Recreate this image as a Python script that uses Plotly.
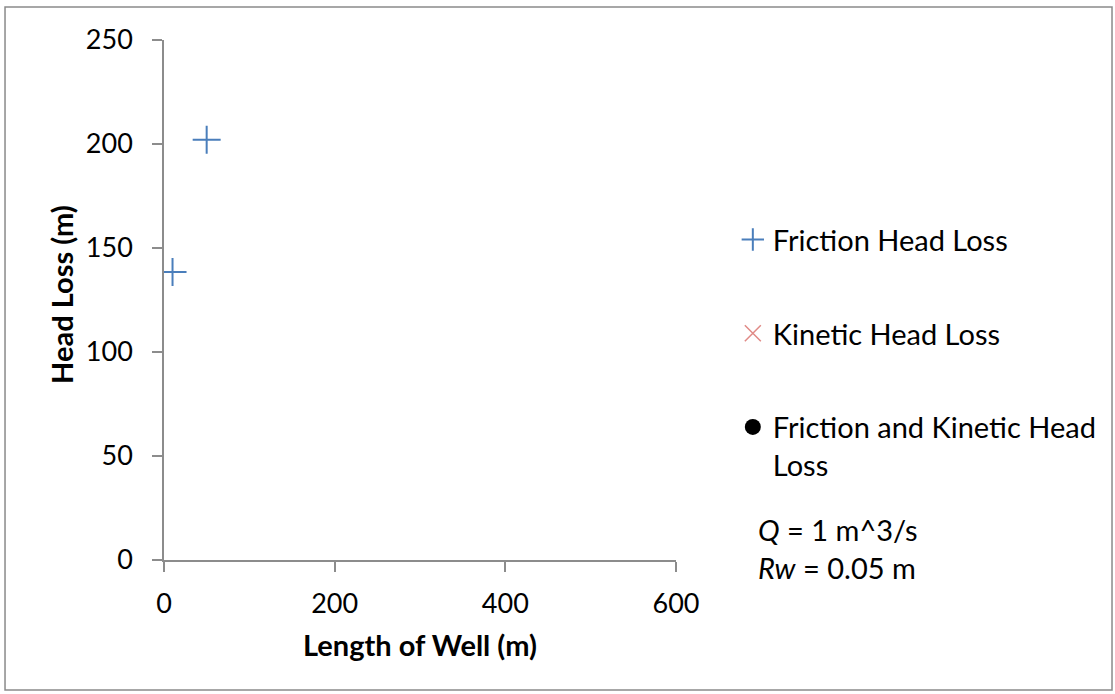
import plotly.graph_objects as go

# Series values
friction_len = [10, 50]
friction_loss = [138.5, 202]
kinetic_len = [None]
kinetic_loss = [None]
combined_len = [None]
combined_loss = [None]

x_ticks = [0, 200, 400, 600]
y_ticks = [0, 50, 100, 150, 200, 250]

FONT = "Lato, 'Open Sans', sans-serif"
AXIS_GRAY = "#8c8c8c"
FS = 29
TICK_FS = 27

fig = go.Figure()

fig.add_trace(go.Scatter(
    x=friction_len, y=friction_loss, mode="markers", name="Friction Head Loss",
    legendgroup="a",
    marker=dict(symbol="cross-thin", size=20, line=dict(width=2, color="#4a7ebb"), color="#4a7ebb"),
))
fig.add_trace(go.Scatter(
    x=kinetic_len, y=kinetic_loss, mode="markers", name="Kinetic Head Loss",
    legendgroup="b",
    marker=dict(symbol="x-thin", size=22, line=dict(width=1.5, color="#e08a86"), color="#e08a86"),
))
fig.add_trace(go.Scatter(
    x=combined_len, y=combined_loss, mode="markers", name="Friction and Kinetic Head<br>Loss",
    legendgroup="c",
    marker=dict(symbol="circle", size=16, color="black"),
))

fig.update_layout(
    width=1115, height=694,
    margin=dict(l=164, r=439, t=40, b=134),
    paper_bgcolor="white", plot_bgcolor="white",
    font=dict(family=FONT, size=FS, color="black"),
    showlegend=True,
    legend=dict(
        x=1.111, y=0.665, xanchor="left", yanchor="top", valign="top",
        font=dict(family=FONT, size=FS, color="black"),
        tracegroupgap=53, bgcolor="rgba(0,0,0,0)",
    ),
    xaxis=dict(
        range=[0, 600], tickvals=x_ticks, showgrid=False, zeroline=False,
        showline=True, linecolor=AXIS_GRAY, linewidth=1.5,
        ticks="outside", ticklen=10, tickcolor=AXIS_GRAY, tickwidth=1.5,
        ticklabelstandoff=9,
        tickfont=dict(family=FONT, size=TICK_FS, color="black"),
        title=dict(text="<b>Length of Well (m)</b>", font=dict(family=FONT, size=FS), standoff=18),
    ),
    yaxis=dict(
        range=[0, 250], tickvals=y_ticks, showgrid=False, zeroline=False,
        showline=True, linecolor=AXIS_GRAY, linewidth=1.5,
        ticks="outside", ticklen=10, tickcolor=AXIS_GRAY, tickwidth=1.5,
        ticklabelstandoff=14,
        tickfont=dict(family=FONT, size=TICK_FS, color="black"),
    ),
)

# Vertical axis title
fig.add_annotation(
    xref="paper", yref="paper", x=-0.199, y=0.51, xanchor="center", yanchor="middle",
    text="<b>Head Loss (m)</b>", textangle=-90, showarrow=False,
    font=dict(family=FONT, size=FS, color="black"),
)

# Parameter note
fig.add_annotation(
    xref="paper", yref="paper", x=1.157, y=0.022, xanchor="left", yanchor="middle",
    text="<i>Q</i> = 1 m^3/s<br><i>Rw</i> = 0.05 m", showarrow=False, align="left",
    font=dict(family=FONT, size=FS, color="black"),
)

# Chart frame
fig.add_shape(
    type="rect", xref="paper", yref="paper",
    x0=-0.3105, x1=1.8516, y0=-0.25, y1=1.0635,
    line=dict(color="#8a8a8a", width=1.5), layer="below",
)

fig.write_html("out.html")
